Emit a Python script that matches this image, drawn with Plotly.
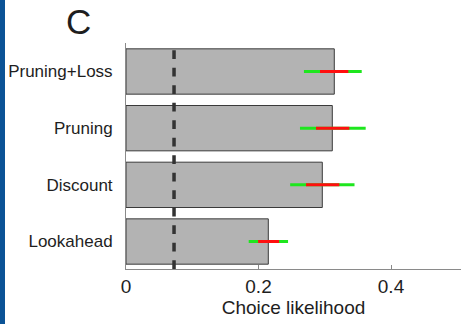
import plotly.graph_objects as go

# ---- data ----
models = ["Lookahead", "Discount", "Pruning", "Pruning+Loss"]
likelihood = [0.2148, 0.2963, 0.3114, 0.3144]
ci_outer_lo = [0.1852, 0.2478, 0.2626, 0.2686]
ci_outer_hi = [0.2446, 0.3449, 0.3618, 0.3558]
ci_inner_lo = [0.1994, 0.2717, 0.2868, 0.2928]
ci_inner_hi = [0.2311, 0.3220, 0.3371, 0.3356]
chance_level = 0.0725
x_ticks = [0, 0.2, 0.4]
x_tick_labels = ["0", "0.2", "0.4"]

W, H = 461, 324
ML, MR, MT, MB = 126, 0, 43, 55
PW, PH = W - ML - MR, H - MT - MB

FONT = "Liberation Sans, Arial, Helvetica, sans-serif"
TXT = "#1e1e1e"

fig = go.Figure()

fig.add_trace(go.Bar(
    y=models, x=likelihood, orientation="h", width=0.8,
    marker=dict(color="#b3b3b3", line=dict(color="#3a3a3a", width=1)),
    showlegend=False, hoverinfo="skip",
))

def segs(lo, hi, cats):
    xs, ys = [], []
    for a, b, c in zip(lo, hi, cats):
        xs += [a, b, None]
        ys += [c, c, None]
    return xs, ys

gx, gy = segs(ci_outer_lo, ci_outer_hi, models)
fig.add_trace(go.Scatter(x=gx, y=gy, mode="lines",
                         line=dict(color="#1ee61e", width=3),
                         showlegend=False, hoverinfo="skip"))
rx, ry = segs(ci_inner_lo, ci_inner_hi, models)
fig.add_trace(go.Scatter(x=rx, y=ry, mode="lines",
                         line=dict(color="#ff0f0f", width=3),
                         showlegend=False, hoverinfo="skip"))

# chance level dashed line (drawn from bottom up)
fig.add_shape(type="line", xref="x", yref="paper",
              x0=chance_level, x1=chance_level, y0=0, y1=1,
              line=dict(color="#333333", width=3.5, dash="8.7px,8.8px"),
              layer="above")

# blue strip at far left
fig.add_shape(type="rect", xref="paper", yref="paper",
              x0=-ML / PW, x1=-(ML - 5) / PW,
              y0=-MB / PH - 0.05, y1=1 + MT / PH + 0.05,
              fillcolor="#0b5396", line=dict(width=0), layer="above")

# panel letter
fig.add_annotation(text="C", xref="paper", yref="paper",
                   x=(78 - ML) / PW, y=(PH + MT - 21) / PH,
                   xanchor="center", yanchor="middle", showarrow=False,
                   font=dict(size=35, color=TXT, family=FONT))

fig.update_layout(
    width=W, height=H,
    margin=dict(l=ML, r=MR, t=MT, b=MB, pad=0),
    paper_bgcolor="white", plot_bgcolor="white",
    font=dict(family=FONT, color=TXT),
    bargap=0.2,
    xaxis=dict(
        range=[0, PW / 662.5], tickvals=x_ticks, ticktext=x_tick_labels,
        ticks="inside", ticklen=4, tickcolor="#888888", tickwidth=1,
        showline=True, linecolor="#8a8a8a", linewidth=1,
        showgrid=False, zeroline=False,
        tickfont=dict(size=19, color=TXT),
        title=dict(text="Choice likelihood", font=dict(size=19, color=TXT), standoff=2),
        fixedrange=True,
    ),
    yaxis=dict(
        range=[-0.485, 3.503], type="category",
        showline=True, linecolor="#8a8a8a", linewidth=1,
        showgrid=False, zeroline=False, ticks="",
        tickfont=dict(size=17, color=TXT),
        ticklabelstandoff=9,
        fixedrange=True,
    ),
)

fig.write_html(
    "out.html",
    config={"displayModeBar": False, "staticPlot": True},
    post_script="document.body.style.margin='0';document.body.style.overflow='hidden';",
)
